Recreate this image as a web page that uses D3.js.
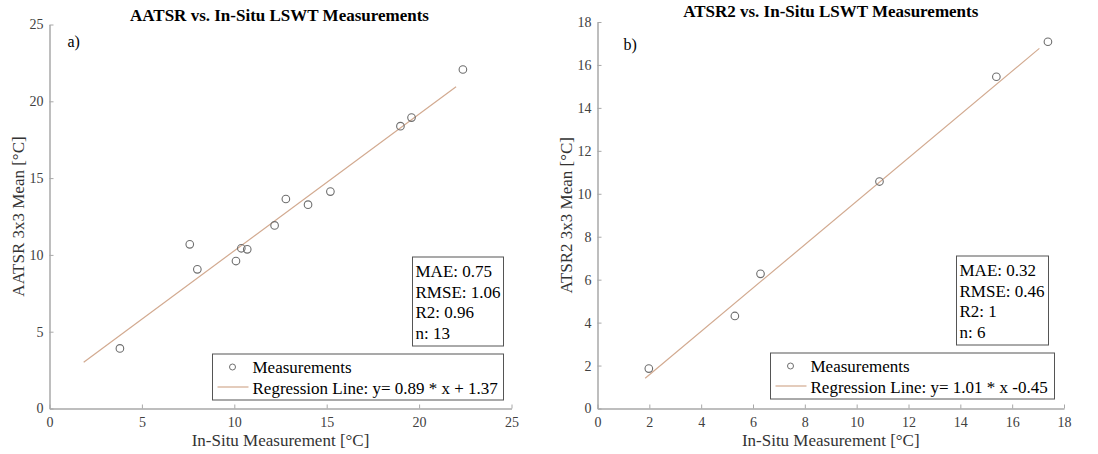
<!DOCTYPE html>
<html>
<head>
<meta charset="utf-8">
<script src="https://cdn.jsdelivr.net/npm/d3@7"></script>
<style>
  body { margin: 0; background: #fff; }
  svg text { font-family: "Liberation Serif", "Times New Roman", serif; }
</style>
</head>
<body>
<svg id="chart" width="1098" height="454"></svg>
<script>
// panel a) AATSR
const aatsrInSitu = [3.81, 7.59, 8.0, 10.09, 10.38, 10.7, 12.18, 12.79, 13.99, 15.2, 18.99, 19.59, 22.37];
const aatsrMean   = [3.91, 10.69, 9.06, 9.6, 10.43, 10.36, 11.92, 13.64, 13.27, 14.12, 18.38, 18.94, 22.07];
const aatsrLineX  = [1.85, 22.0];
const aatsrTicks  = [0, 5, 10, 15, 20, 25];
const aatsrStats  = ["MAE: 0.75", "RMSE: 1.06", "R2: 0.96", "n: 13"];

// panel b) ATSR2
const atsr2InSitu = [1.98, 5.3, 6.29, 10.88, 15.39, 17.38];
const atsr2Mean   = [1.86, 4.31, 6.27, 10.57, 15.45, 17.08];
const atsr2LineX  = [1.84, 17.05];
const atsr2Ticks  = [0, 2, 4, 6, 8, 10, 12, 14, 16, 18];
const atsr2Stats  = ["MAE: 0.32", "RMSE: 0.46", "R2: 1", "n: 6"];

const svg = d3.select("#chart");
const serif = "'Liberation Serif', 'Times New Roman', serif";

function drawPanel(p) {
  const g = svg.append("g").attr("transform", `translate(${p.left}, 0)`);
  const x = d3.scaleLinear().domain([0, p.max]).range([0, p.w]);
  const y = d3.scaleLinear().domain([0, p.max]).range([p.bottom, p.top]);

  const xAxis = g.append("g")
    .attr("transform", `translate(0, ${p.bottom})`)
    .call(d3.axisBottom(x).tickValues(p.ticks).tickSize(-4).tickPadding(9).tickSizeOuter(0));
  const yAxis = g.append("g")
    .call(d3.axisLeft(y).tickValues(p.ticks).tickSize(-4).tickPadding(6).tickSizeOuter(0));

  [xAxis, yAxis].forEach(a => {
    a.attr("font-family", serif).attr("font-size", 14);
    a.select(".domain").attr("stroke", "#a8a8a8").attr("stroke-width", 1.5);
    a.selectAll(".tick line").attr("stroke", "#a8a8a8");
    a.selectAll(".tick text").attr("fill", "#404040");
  });

  // regression line
  g.append("line")
    .attr("x1", x(p.lineX[0])).attr("y1", y(p.slope * p.lineX[0] + p.icpt))
    .attr("x2", x(p.lineX[1])).attr("y2", y(p.slope * p.lineX[1] + p.icpt))
    .attr("stroke", "#d2aa90").attr("stroke-width", 1.2);

  g.selectAll("circle.pt")
    .data(p.xs.map((v, i) => [v, p.ys[i]]))
    .enter().append("circle")
    .attr("class", "pt")
    .attr("cx", d => x(d[0]))
    .attr("cy", d => y(d[1]))
    .attr("r", 3.8)
    .attr("fill", "none")
    .attr("stroke", "#6e6e6e")
    .attr("stroke-width", 1.1);

  // title & labels
  g.append("text")
    .attr("x", p.w / 2 + p.titleDx).attr("y", p.titleY)
    .attr("text-anchor", "middle")
    .style("font-size", "17px").style("font-weight", "bold")
    .text(p.title);

  g.append("text")
    .attr("x", p.tagX).attr("y", p.tagY)
    .style("font-size", "16px")
    .text(p.tag);

  g.append("text")
    .attr("x", p.w / 2).attr("y", 446)
    .attr("text-anchor", "middle")
    .attr("fill", "#333")
    .style("font-size", "17px")
    .text("In-Situ Measurement [°C]");

  g.append("text")
    .attr("transform", `translate(-26, ${(p.top + p.bottom) / 2}) rotate(-90)`)
    .attr("text-anchor", "middle")
    .attr("fill", "#333")
    .style("font-size", "17px")
    .text(p.yLabel);

  // stats box
  const sb = p.statBox;
  g.append("rect")
    .attr("x", sb[0]).attr("y", sb[1]).attr("width", sb[2]).attr("height", sb[3])
    .attr("fill", "#fff").attr("stroke", "#555").attr("stroke-width", 1);
  g.selectAll("text.stat")
    .data(p.stats).enter().append("text")
    .attr("class", "stat")
    .attr("x", sb[0] + 3)
    .attr("y", (d, i) => sb[1] + 20 + i * 20.5)
    .style("font-size", "17px")
    .text(d => d);

  // legend
  const lb = p.legBox;
  g.append("rect")
    .attr("x", lb[0]).attr("y", lb[1]).attr("width", lb[2]).attr("height", lb[3])
    .attr("fill", "#fff").attr("stroke", "#555").attr("stroke-width", 1);
  g.append("circle")
    .attr("cx", lb[0] + 20).attr("cy", lb[1] + 13).attr("r", 3)
    .attr("fill", "none").attr("stroke", "#6e6e6e").attr("stroke-width", 1);
  g.append("line")
    .attr("x1", lb[0] + 5).attr("x2", lb[0] + 36)
    .attr("y1", lb[1] + 33).attr("y2", lb[1] + 33)
    .attr("stroke", "#d2aa90").attr("stroke-width", 1.2);
  g.append("text")
    .attr("x", lb[0] + 40).attr("y", lb[1] + 19)
    .style("font-size", "17px").text("Measurements");
  g.append("text")
    .attr("x", lb[0] + 40).attr("y", lb[1] + 40)
    .style("font-size", "17px").text(p.legLine);
}

drawPanel({
  left: 49.5, w: 462, top: 24.5, bottom: 408.5, max: 25, ticks: aatsrTicks,
  xs: aatsrInSitu, ys: aatsrMean, lineX: aatsrLineX, slope: 0.89, icpt: 1.37,
  title: "AATSR vs. In-Situ LSWT Measurements", titleDx: -1, titleY: 21,
  tag: "a)", tagX: 18, tagY: 47,
  yLabel: "AATSR 3x3 Mean [°C]",
  stats: aatsrStats, statBox: [363, 257, 91, 89],
  legBox: [163, 354, 291, 46],
  legLine: "Regression Line: y= 0.89 * x + 1.37"
});

drawPanel({
  left: 597.5, w: 466.5, top: 22, bottom: 408.5, max: 18, ticks: atsr2Ticks,
  xs: atsr2InSitu, ys: atsr2Mean, lineX: atsr2LineX, slope: 1.01, icpt: -0.45,
  title: "ATSR2 vs. In-Situ LSWT Measurements", titleDx: 0, titleY: 17,
  tag: "b)", tagX: 26, tagY: 50,
  yLabel: "ATSR2 3x3 Mean [°C]",
  stats: atsr2Stats, statBox: [359, 256, 92, 89],
  legBox: [173, 353, 284, 46],
  legLine: "Regression Line: y= 1.01 * x -0.45"
});
</script>
</body>
</html>
